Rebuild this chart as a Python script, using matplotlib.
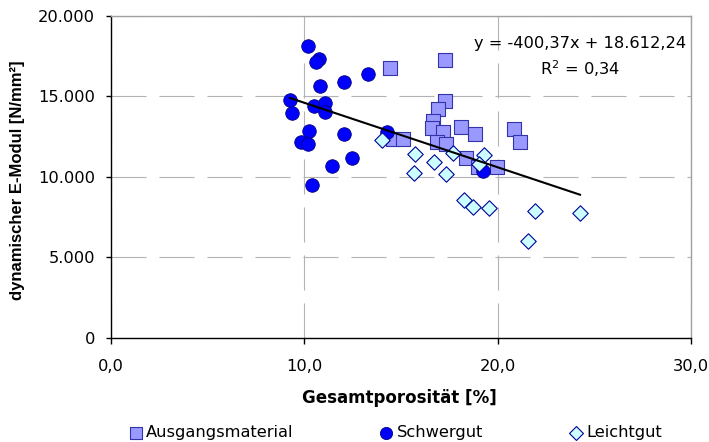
import matplotlib
matplotlib.use("Agg")
import matplotlib.pyplot as plt
import numpy as np
from matplotlib.ticker import FuncFormatter, MultipleLocator

plt.rcParams['font.family'] = ['DejaVu Sans']

# Data (Gesamtporosität [%], dynamischer E-Modul [N/mm²])
aus_x = [14.45, 17.3, 17.25, 16.9, 16.65, 16.6, 17.15, 18.1, 18.85, 20.85, 21.15,
         16.85, 17.35, 18.35, 19.0, 19.95, 14.6, 15.1]
aus_y = [16800, 17250, 14700, 14200, 13450, 13050, 12800, 13100, 12700, 13000, 12150,
         12200, 12050, 11200, 10600, 10600, 12350, 12350]

sch_x = [10.2, 10.78, 10.6, 10.81, 12.05, 13.3, 9.26, 9.36, 10.52, 11.09, 11.09,
         10.23, 9.83, 10.19, 12.07, 12.48, 11.45, 10.41, 14.3, 19.23]
sch_y = [18150, 17300, 17150, 15650, 15900, 16400, 14800, 14000, 14400, 14600, 14050,
         12850, 12150, 12050, 12650, 11150, 10700, 9500, 12800, 10400]

lei_x = [15.73, 16.71, 15.67, 17.33, 17.68, 19.3, 19.02, 18.26, 18.71, 19.54, 21.93,
         24.26, 21.57, 14.0]
lei_y = [11450, 10950, 10250, 10200, 11500, 11350, 10800, 8550, 8150, 8050, 7900,
         7750, 6050, 12300]

series_names = ['Ausgangsmaterial', 'Schwergut', 'Leichtgut']

# Trend line coefficients (as given in the chart)
slope = -400.37
intercept = 18612.24
r2 = 0.34

FS = 11.7

fig = plt.figure(figsize=(7.09, 4.42), dpi=100)
ax = fig.add_axes([0.1566, 0.2353, 0.818, 0.7285])

ax.scatter(aus_x, aus_y, marker='s', s=95, facecolor='#9999FF', edgecolor='#3333AA',
           linewidth=0.8, zorder=3, label=series_names[0])
ax.scatter(sch_x, sch_y, marker='o', s=95, facecolor='#0000FF', edgecolor='#000080',
           linewidth=0.6, zorder=3, label=series_names[1])
ax.scatter(lei_x, lei_y, marker='D', s=62, facecolor='#CCFFFF', edgecolor='#000099',
           linewidth=0.8, zorder=3, label=series_names[2])

all_x = np.array(aus_x + sch_x + lei_x)
xl = np.array([all_x.min(), all_x.max()])
ax.plot(xl, slope * xl + intercept, color='black', linewidth=1.5, zorder=4)

def de_num(v, dec):
    s = f"{v:,.{dec}f}"
    return s.replace(',', 'X').replace('.', ',').replace('X', '.')

eq = f"y = {de_num(slope, 2)}x + {de_num(intercept, 2)}"
ax.text(0.8086, 0.916, eq, transform=ax.transAxes, ha='center', va='center', fontsize=FS)
ax.text(0.8086, 0.835, f"R$^2$ = {de_num(r2, 2)}", transform=ax.transAxes,
        ha='center', va='center', fontsize=FS)

ax.set_xlim(0, 30)
ax.set_ylim(0, 20000)
ax.xaxis.set_major_locator(MultipleLocator(10))
ax.yaxis.set_major_locator(MultipleLocator(5000))
ax.xaxis.set_major_formatter(FuncFormatter(lambda v, p: de_num(v, 1)))
ax.yaxis.set_major_formatter(FuncFormatter(lambda v, p: de_num(v, 0)))
ax.tick_params(axis='both', labelsize=FS, width=1, direction='out', colors='black')
ax.tick_params(axis='x', length=4.3, pad=11)
ax.tick_params(axis='y', length=3.6, pad=8)

ax.grid(True, color='#B3B3B3', linestyle=(0, (31.5, 11.7)), linewidth=0.8, zorder=0)
ax.set_axisbelow(True)
for side in ['top', 'right']:
    ax.spines[side].set_color('#A0A0A0')
    ax.spines[side].set_linewidth(1)
for side in ['left', 'bottom']:
    ax.spines[side].set_color('black')
    ax.spines[side].set_linewidth(1)

ax.set_xlabel('Gesamtporosität [%]', fontsize=12, fontweight='bold')
ax.xaxis.set_label_coords(0.497, -0.185)
ax.xaxis.label.set_verticalalignment('center')
ax.set_ylabel('dynamischer E-Modul [N/mm²]', fontsize=12, fontweight='bold',
              family=['Liberation Sans', 'DejaVu Sans'])
ax.yaxis.set_label_coords(-0.161, 0.49)
ax.yaxis.label.set_verticalalignment('center')

leg = fig.legend(loc='center', bbox_to_anchor=(0.557, 0.022), ncol=3, frameon=False,
                 fontsize=FS, handletextpad=0.15, columnspacing=5.2, markerscale=0.9,
                 handlelength=1.0, borderaxespad=0)

fig.savefig('out.png', dpi=100)
